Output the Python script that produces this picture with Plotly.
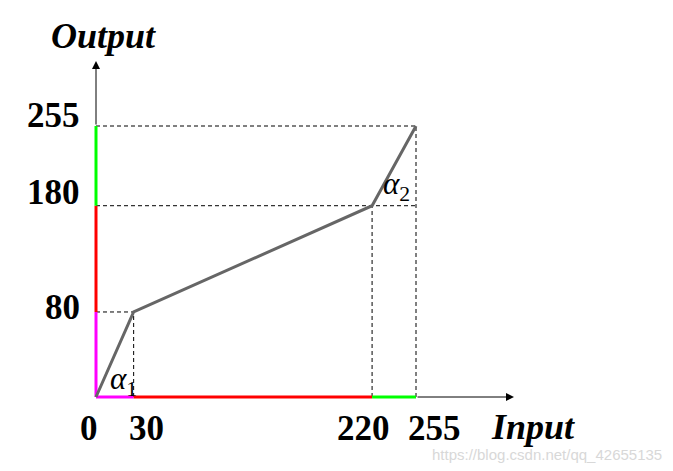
import plotly.graph_objects as go

# ---- data ----
input_pts = [0, 30, 220, 255]
output_pts = [0, 80, 180, 255]
x_tick_labels = ["0", "30", "220", "255"]
y_tick_labels = ["80", "180", "255"]
y_tick_vals = [80, 180, 255]
x_title = "Input"
y_title = "Output"
watermark = "https://blog.csdn.net/qq_42655135"

PAGE_W, PAGE_H = 673, 471
BODY = 8                  # default html body margin
W, H = PAGE_W - BODY, PAGE_H - BODY
# pixel geometry of the reference diagram (page pixels)
ox, oy = 96, 397
px_per_x = 320 / 255
px_per_y = 271 / 255

def dx(px):
    return (px - ox) / px_per_x

def dy(py):
    return (oy - py) / px_per_y

xr = [dx(BODY), dx(PAGE_W)]
yr = [dy(PAGE_H), dy(BODY)]

seg_colors = ["#ff00ff", "#ff0000", "#00ff00"]
SERIF = "Liberation Serif"
DASH = dict(color="black", width=1, dash="4px,3px")

fig = go.Figure()

# dashed guide lines
for xi, yi in zip(input_pts[1:], output_pts[1:]):
    fig.add_trace(go.Scatter(x=[0, input_pts[-1] if yi >= output_pts[2] else xi], y=[yi, yi],
                             mode="lines", line=DASH, hoverinfo="skip"))
    fig.add_trace(go.Scatter(x=[xi, xi], y=[0, output_pts[-1] if xi == input_pts[-1] else yi],
                             mode="lines", line=DASH, hoverinfo="skip"))

# coloured segments on axes
for i in range(3):
    fig.add_trace(go.Scatter(x=[input_pts[i], input_pts[i + 1]], y=[0, 0], mode="lines",
                             line=dict(color=seg_colors[i], width=3), hoverinfo="skip"))
    fig.add_trace(go.Scatter(x=[0, 0], y=[output_pts[i], output_pts[i + 1]], mode="lines",
                             line=dict(color=seg_colors[i], width=3), hoverinfo="skip"))

# transfer curve
fig.add_trace(go.Scatter(x=input_pts, y=output_pts, mode="lines",
                         line=dict(color="#666666", width=3), hoverinfo="skip"))

ann = []
# axis arrows
ann.append(dict(x=dx(514), y=0, ax=input_pts[-1], ay=0, xref="x", yref="y", axref="x", ayref="y",
                showarrow=True, arrowhead=2, arrowsize=1.6, arrowwidth=1, arrowcolor="black", text=""))
ann.append(dict(x=0, y=dy(61), ax=0, ay=output_pts[-1], xref="x", yref="y", axref="x", ayref="y",
                showarrow=True, arrowhead=2, arrowsize=1.6, arrowwidth=1, arrowcolor="black", text=""))

tick_font = dict(family=SERIF, size=35, color="black")
# x tick labels
x_shifts = [-7, 13, -9, 18]
for v, lab, s in zip(input_pts, x_tick_labels, x_shifts):
    ann.append(dict(x=v, y=dy(428), text="<b>%s</b>" % lab, showarrow=False, xanchor="center",
                    yanchor="middle", xshift=s, font=tick_font))
# y tick labels
y_shifts = [4, 13, 11]
for v, lab, s in zip(y_tick_vals, y_tick_labels, y_shifts):
    ann.append(dict(x=dx(82), y=v, text="<b>%s</b>" % lab, showarrow=False, xanchor="right",
                    yanchor="middle", yshift=s, font=tick_font))

# axis titles
ann.append(dict(x=dx(103), y=dy(36), text="<b><i>%s</i></b>" % y_title, showarrow=False,
                xanchor="center", yanchor="middle", font=dict(family=SERIF, size=36, color="black")))
ann.append(dict(x=dx(533), y=dy(427), text="<b><i>%s</i></b>" % x_title, showarrow=False,
                xanchor="center", yanchor="middle", font=dict(family=SERIF, size=36, color="black")))

# alpha labels
ann.append(dict(x=dx(108), y=dy(381), text="<i>α</i><sub>1</sub>", showarrow=False,
                xanchor="left", yanchor="middle", font=dict(family=SERIF, size=31, color="black")))
ann.append(dict(x=dx(381), y=dy(186), text="<i>α</i><sub>2</sub>", showarrow=False,
                xanchor="left", yanchor="middle", font=dict(family=SERIF, size=31, color="black")))

# watermark
ann.append(dict(x=dx(664), y=dy(454), text=watermark, showarrow=False, xanchor="right",
                yanchor="middle", font=dict(family="Liberation Sans", size=15, color="#d8d8d8")))

fig.update_layout(
    width=W, height=H, margin=dict(l=0, r=0, t=0, b=0),
    paper_bgcolor="white", plot_bgcolor="white", showlegend=False,
    xaxis=dict(range=xr, visible=False, fixedrange=True),
    yaxis=dict(range=yr, visible=False, fixedrange=True),
    annotations=ann,
)

fig.write_html("out.html")
